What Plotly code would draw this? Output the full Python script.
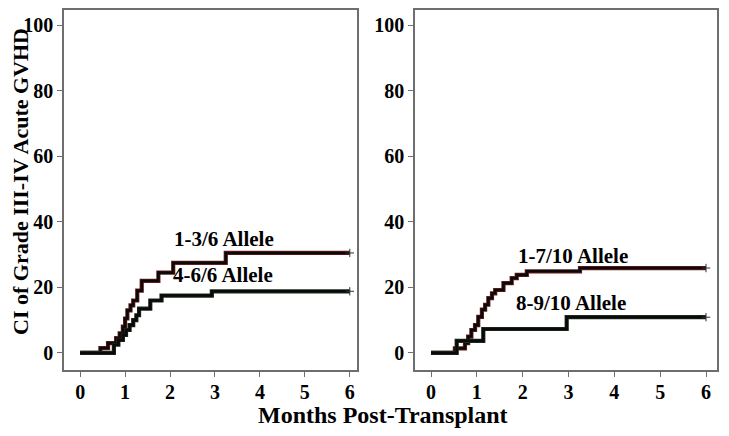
import plotly.graph_objects as go

# ---- data (months, cumulative incidence %) ----
a_t = [0, 0.45, 0.62, 0.8, 0.88, 0.95, 1.0, 1.05, 1.12, 1.18, 1.27, 1.37, 1.74, 2.07, 3.24, 6]
a_v = [0, 1.5, 3, 4.5, 6, 8, 10.5, 13, 14.5, 16, 19, 22, 24.5, 27.5, 30.5, 30.5]
b_t = [0, 0.75, 0.85, 0.95, 1.02, 1.1, 1.18, 1.25, 1.31, 1.56, 1.81, 2.93, 6]
b_v = [0, 2.5, 4, 5.5, 7, 8.5, 10, 11.5, 13.5, 16, 17.5, 18.8, 18.8]
c_t = [0, 0.52, 0.74, 0.81, 0.88, 0.96, 1.03, 1.11, 1.18, 1.25, 1.33, 1.40, 1.58, 1.76, 1.87, 2.09, 3.25, 6]
c_v = [0, 1.4, 3, 5, 7, 8.5, 11, 13.2, 14.7, 16.7, 18.2, 19.2, 21.3, 22.8, 23.8, 24.9, 25.9, 25.9]
d_t = [0, 0.56, 1.14, 2.96, 6]
d_v = [0, 3.7, 7.3, 10.9, 10.9]

labels = ["1-3/6 Allele", "4-6/6 Allele", "1-7/10 Allele", "8-9/10 Allele"]
x_ticks = [0, 1, 2, 3, 4, 5, 6]
y_ticks = [0, 20, 40, 60, 80, 100]

FONT = "Liberation Serif"

fig = go.Figure()

def add_curve(t, v, xa, ya, edge):
    fig.add_trace(go.Scatter(x=t, y=v, mode="lines", line=dict(shape="hv", color=edge, width=4.2),
                             xaxis=xa, yaxis=ya, showlegend=False, hoverinfo="skip"))
    fig.add_trace(go.Scatter(x=t, y=v, mode="lines", line=dict(shape="hv", color="#0a0a0a", width=2.6),
                             xaxis=xa, yaxis=ya, showlegend=False))
    fig.add_trace(go.Scatter(x=[t[-1]], y=[v[-1]], mode="markers",
                             marker=dict(symbol="cross-thin", size=6, line=dict(color="#333", width=1)),
                             xaxis=xa, yaxis=ya, showlegend=False))

add_curve(a_t, a_v, "x", "y", "#6a1c1c")
add_curve(b_t, b_v, "x", "y", "#1c2a1c")
add_curve(c_t, c_v, "x2", "y2", "#6a1c1c")
add_curve(d_t, d_v, "x2", "y2", "#1c2a1c")

# page body has an 8px margin, so the figure is 8px smaller and positions are shifted by 8
W, H = 721, 428
OFF = 8
axis_common = dict(showline=True, linecolor="#6e6e6e", linewidth=1.5, mirror=True,
                   ticks="outside", ticklen=5, tickcolor="#6e6e6e", tickwidth=1.2,
                   showgrid=False, zeroline=False,
                   tickfont=dict(family=FONT, size=20, color="black", weight="bold"))

ydom = [1 - (370 - OFF) / H, 1 - (10 - OFF) / H]
fig.update_layout(
    width=W, height=H, margin=dict(l=0, r=0, t=0, b=0),
    paper_bgcolor="white", plot_bgcolor="white",
    xaxis=dict(domain=[(64 - OFF) / W, (357 - OFF) / W], range=[-0.36, 6.16], tickvals=x_ticks,
               anchor="y", ticklabelstandoff=-2, **axis_common),
    yaxis=dict(domain=ydom, range=[-5.2, 104.6], tickvals=y_ticks, anchor="x", **axis_common),
    xaxis2=dict(domain=[(415 - OFF) / W, (717 - OFF) / W], range=[-0.35, 6.24], tickvals=x_ticks,
                anchor="y2", ticklabelstandoff=-2, **axis_common),
    yaxis2=dict(domain=ydom, range=[-5.2, 104.6], tickvals=y_ticks, anchor="x2", **axis_common),
)

lab_font = dict(family=FONT, size=21, color="black", weight="bold")
fig.add_annotation(x=3.2, y=34.8, xref="x", yref="y", text=labels[0], showarrow=False, font=lab_font)
fig.add_annotation(x=3.18, y=23.8, xref="x", yref="y", text=labels[1], showarrow=False, font=lab_font)
fig.add_annotation(x=3.1, y=29.6, xref="x2", yref="y2", text=labels[2], showarrow=False, font=lab_font)
fig.add_annotation(x=3.06, y=15.2, xref="x2", yref="y2", text=labels[3], showarrow=False, font=lab_font)

title_font = dict(family=FONT, size=24, color="black", weight="bold")
fig.add_annotation(x=(383 - OFF) / W, y=1 - (415 - OFF) / H, xref="paper", yref="paper", text="Months Post-Transplant",
                   showarrow=False, font=title_font, xanchor="center", yanchor="middle")
fig.add_annotation(x=(20 - OFF) / W, y=1 - (182 - OFF) / H, xref="paper", yref="paper", text="CI of Grade III-IV Acute GVHD",
                   showarrow=False, font=dict(family=FONT, size=22, color="black", weight="bold"),
                   textangle=-90, xanchor="center", yanchor="middle")

fig.write_html("out.html")
